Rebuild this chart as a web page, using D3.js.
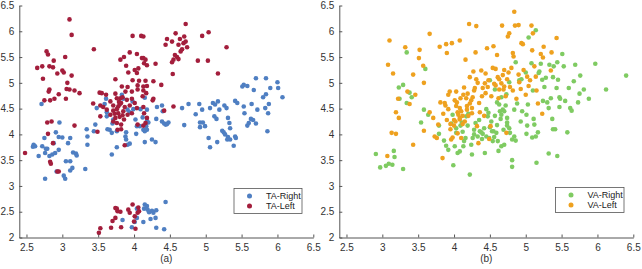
<!DOCTYPE html>
<html><head><meta charset="utf-8">
<script src="https://cdn.jsdelivr.net/npm/d3@7"></script>
<style>body{margin:0;background:#fff}svg{display:block}text{font-family:"Liberation Sans",Arial,sans-serif}</style>
</head><body><svg id="c" width="642" height="269"></svg>
<script>
const xTicks=[2.5,3,3.5,4,4.5,5,5.5,6,6.5];
const yTicks=[2,2.5,3,3.5,4,4.5,5,5.5,6,6.5];
const panelLabels=["(a)","(b)"];
const legendA=["TA-Right","TA-Left"];
const legendB=["VA-Right","VA-Left"];

const taRight=[[2.71,4.59],[2.60,3.80],[2.59,3.76],[2.62,3.77],[2.67,3.58],[2.72,3.77],[2.75,3.93],[2.77,3.72],[2.76,3.64],[2.79,3.72],
[2.82,3.58],[2.88,3.83],[2.90,3.64],[2.86,3.61],[2.91,4.04],[2.96,4.23],[2.95,3.95],[2.95,3.70],[3.00,3.94],[3.08,3.83],[3.11,3.93],
[2.76,3.14],[2.92,3.28],[3.02,3.20],[3.04,3.14],[3.05,3.48],[3.11,3.48],[3.11,3.30],[3.14,3.35],[3.15,3.65],[3.19,3.63],[3.20,3.59],[3.32,3.33],
[3.34,4.10],[3.35,3.96],[3.35,3.80],[3.44,4.06],[3.46,4.19],[3.48,4.51],[3.59,4.59],[3.61,4.69],[3.62,4.43],[3.62,4.35],[3.63,4.10],[3.66,4.09],[3.69,4.03],
[3.70,4.21],[3.71,4.29],[3.76,4.06],[3.69,3.61],[3.76,3.75],[3.83,4.77],[3.85,4.69],[3.91,4.48],[3.94,4.43],[3.98,4.64],[3.88,3.96],[3.89,3.90],[3.91,3.80],[3.94,3.82],[3.89,4.04],
[3.99,4.49],[4.02,4.29],[4.04,4.16],[4.03,4.01],[4.08,4.16],[4.09,4.49],[4.12,4.33],[4.13,4.09],[4.15,4.06],[4.18,4.09],[4.17,4.16],[4.15,4.71],[4.15,3.85],[4.18,4.26],[4.20,4.23],[4.18,4.48],[4.25,3.90],[4.30,3.85],[4.31,4.30],
[4.32,4.53],[4.39,4.56],[4.40,4.45],[4.39,4.25],[4.42,4.21],[4.44,4.19],[4.48,4.23],[4.46,4.20],
[4.67,4.51],[4.70,4.18],[4.76,4.59],[4.86,4.39],[4.91,4.59],[4.92,4.23],[4.92,4.14],[4.95,4.48],[4.96,4.23],[4.99,4.16],
[5.04,3.93],[5.06,4.51],[5.06,3.75],[5.10,4.61],[5.12,4.35],[5.15,4.30],[5.13,4.58],[5.17,4.64],[5.16,3.85],[5.19,4.48],[5.23,4.07],[5.25,4.04],[5.27,4.00],
[5.26,4.56],[5.29,4.51],[5.31,4.32],[5.33,4.22],[5.34,4.12],[5.31,3.95],[5.30,3.90],[5.34,3.90],[5.39,3.78],[5.41,3.96],[5.42,3.93],[5.41,4.65],[5.44,4.61],
[5.51,4.93],[5.53,4.96],[5.58,4.94],[5.54,4.41],[5.53,4.54],[5.58,4.17],[5.60,4.22],[5.63,4.30],[5.64,4.59],[5.67,4.86],[5.70,5.09],[5.72,4.48],[5.70,4.21],[5.66,4.28],
[5.80,4.72],[5.86,4.06],[5.84,4.78],[5.84,5.09],[5.83,4.51],[5.87,4.41],[5.88,4.59],[5.90,4.90],[6.00,5.01],[6.01,4.90],[6.07,4.72],
[3.84,2.34],[3.97,2.20],[4.01,2.30],[4.04,2.56],[4.04,2.38],[4.13,2.30],[4.14,2.56],[4.15,2.64],[4.18,2.61],[4.19,2.54],[4.21,2.49],[4.23,2.36],[4.27,2.48],[4.31,2.53],[4.30,2.38],[4.31,2.19],[4.42,2.16],[4.44,2.69],[4.25,2.52]];

const taLeft=[[2.48,3.64],[3.10,6.23],[3.13,5.93],[2.78,5.61],[2.80,5.55],[2.65,5.29],[2.72,5.32],[2.82,5.32],[2.88,5.43],[2.87,5.30],
[2.73,5.08],[2.93,5.18],[3.02,5.20],[3.04,5.50],[3.00,5.24],[3.13,5.14],[3.07,5.00],[2.82,4.87],[2.81,4.83],[2.95,4.78],
[3.06,4.88],[3.10,4.87],[3.17,4.85],[3.24,4.80],[2.75,4.66],[2.83,4.66],[2.89,4.69],[3.05,4.69],[2.79,4.23],[2.85,4.25],
[3.17,4.17],[2.80,4.01],[2.87,3.83],[2.83,3.47],[2.84,3.43],[2.93,3.28],[2.95,3.28],[3.44,5.65],[3.43,4.60],[3.49,4.05],
[3.52,4.81],[3.55,4.80],[3.61,4.77],[3.74,5.07],[3.81,5.45],[3.86,5.50],[3.94,5.59],[3.89,5.33],[4.04,5.56],[4.11,5.48],[4.13,5.48],[4.16,5.45],[4.14,5.38],[4.18,5.34],[4.30,5.37],
[3.98,5.91],[4.10,5.91],[4.13,5.90],[4.01,5.25],[4.06,5.28],[4.04,5.19],[3.92,5.20],
[3.98,5.05],[4.07,5.04],[4.16,5.04],[4.27,5.03],[4.38,4.96],[3.83,4.93],[3.91,4.92],[4.05,4.95],[4.13,4.93],[4.18,4.94],
[3.88,4.83],[3.97,4.83],[4.05,4.87],[4.13,4.85],[4.17,4.80],[3.74,4.79],[3.76,4.70],[3.81,4.70],[3.84,4.72],[3.90,4.67],[3.97,4.69],[4.01,4.61],[4.12,4.74],[4.27,4.69],
[3.67,4.64],[3.71,4.56],[3.78,4.54],[3.82,4.61],[3.87,4.53],[3.94,4.56],[4.04,4.51],[3.53,4.56],[3.57,4.53],[3.62,4.48],
[3.71,4.46],[3.78,4.41],[3.85,4.45],[3.91,4.38],[3.97,4.41],[3.53,4.35],[3.67,4.38],[3.74,4.32],[3.80,4.34],[3.86,4.29],
[3.71,4.25],[3.76,4.22],[3.82,4.19],[3.77,4.09],[3.82,4.10],[4.14,4.41],[4.18,4.32],[4.16,4.22],[4.13,4.17],[4.13,4.53],[4.05,4.19],[3.87,3.79],
[4.42,4.46],[4.55,4.54],[4.26,4.66],[3.76,4.49],[3.80,4.58],[3.73,4.40],[3.84,4.37],[3.79,4.63],
[4.44,5.74],[4.46,5.85],[4.53,5.80],[4.58,5.96],[4.62,5.74],[4.64,5.85],[4.69,5.77],[4.70,5.90],[4.72,6.14],[4.72,5.80],[4.74,5.69],[4.67,5.65],[4.65,5.61],[4.57,5.54],[4.60,5.50],[4.62,5.46],[4.55,5.45],[4.53,5.40],[4.54,5.17],
[4.95,5.91],[5.04,5.98],[4.89,5.43],[5.03,5.43],[5.17,5.18],[5.29,5.69],
[3.51,2.09],[3.53,2.18],[3.68,2.19],[3.70,2.32],[3.74,2.57],[3.76,2.56],[3.77,2.51],[3.81,2.50],[3.74,2.38],[3.82,2.20],[3.92,2.54],[3.94,2.48],[3.98,2.64],[4.01,2.41],[4.00,2.31],[4.02,2.17],[4.05,2.48],[4.07,2.51],[4.06,2.58]];

const vaRight=[[2.91,3.62],[2.97,3.36],[3.05,3.39],[3.09,3.43],[3.14,3.41],[3.16,3.68],[3.17,3.56],[3.29,3.33],[3.34,5.59],[3.23,4.91],[3.24,4.69],[3.29,4.96],[3.38,4.81],[3.41,4.72],[3.34,4.61],
[3.60,5.27],[3.58,4.48],[3.54,4.23],[3.64,4.38],[3.79,4.17],[3.79,4.01],[3.86,3.88],[3.89,3.78],[3.92,3.70],[3.96,4.21],[3.98,4.38],[3.99,3.40],[4.01,3.77],[4.03,4.12],[4.03,4.03],[4.05,3.64],[4.08,3.67],[4.09,4.17],[4.11,4.23],[4.13,3.77],[4.14,3.87],[4.16,3.93],[4.17,4.35],[4.19,4.17],[4.20,4.40],
[4.22,3.22],[4.25,3.61],[4.26,3.93],[4.28,4.09],[4.30,4.22],[4.33,3.96],[4.36,4.06],[4.38,4.04],[4.40,4.01],[4.39,3.91],[4.43,3.64],[4.45,4.49],[4.45,3.96],[4.49,3.93],[4.50,5.05],[4.50,4.14],[4.53,4.06],[4.55,4.06],[4.54,3.87],[4.57,4.87],[4.57,4.36],[4.59,4.03],[4.61,3.87],[4.62,3.68],[4.63,4.58],[4.64,4.45],[4.66,4.38],[4.66,4.72],[4.66,3.77],[4.68,4.48],[4.69,4.09],[4.70,3.80],[4.72,4.56],[4.73,4.78],[4.74,4.32],[4.74,4.23],[4.74,4.17],[4.77,5.01],[4.77,4.12],[4.78,4.03],[4.81,3.90],[4.81,3.50],[4.81,3.37],[4.84,4.48],[4.84,3.96],[4.86,3.88],[4.86,5.40],[4.91,5.05],[4.93,4.25],[4.94,5.07],
[5.00,5.20],[5.01,4.38],[5.01,4.01],[5.02,4.17],[5.03,4.58],[5.04,5.88],[5.08,5.38],[5.09,3.94],[5.10,4.85],[5.11,4.30],[5.12,4.19],[5.14,6.02],[5.14,3.96],[5.15,3.45],[5.17,4.04],[5.18,5.19],[5.19,5.22],[5.21,5.37],[5.23,5.06],[5.24,4.65],[5.26,4.92],[5.28,5.10],[5.30,4.62],[5.32,4.51],[5.32,3.63],[5.33,5.35],[5.35,4.70],[5.37,4.30],[5.38,4.10],[5.38,5.11],[5.39,5.32],[5.41,4.10],[5.43,4.90],[5.44,5.40],[5.44,3.58],[5.45,5.06],[5.47,4.72],[5.47,4.53],[5.48,4.69],[5.51,5.56],[5.53,5.32],[5.55,4.65],[5.58,4.04],[5.60,4.90],[5.62,4.51],[5.64,4.46],[5.67,5.03],[5.69,5.35],[5.73,4.62],[5.75,4.79],[5.76,5.14],[5.81,4.87],[5.88,4.69],[5.97,5.37],[6.12,4.87],[6.40,5.14],
[4.35,4.28],[4.42,4.12],[4.47,4.35],[4.52,4.25],[4.60,4.18],[4.65,4.30],[4.70,4.45],[4.56,3.95],[4.28,4.00],[4.12,4.05],[4.24,3.80],[4.48,4.42],[4.88,4.60],[4.95,4.45],[4.60,4.62]];

const vaLeft=[[3.10,5.82],[3.08,5.35],[3.07,3.58],[3.13,4.03],[3.19,4.01],[3.15,5.18],[3.19,4.43],[3.22,4.69],[3.23,4.32],[3.32,5.69],[3.35,4.83],[3.38,4.59],[3.43,5.16],[3.43,3.80],[3.46,4.77],[3.51,5.48],[3.52,5.64],[3.57,5.33],[3.58,5.00],[3.58,4.07],[3.66,5.95],[3.66,4.43],[3.71,4.32],[3.73,3.96],[3.76,3.93],[3.78,4.19],[3.80,5.70],[3.81,4.62],[3.84,3.54],[3.87,4.61],[3.88,4.56],[3.89,5.75],[3.90,5.58],[3.92,4.77],[3.92,4.49],[3.94,4.83],[3.95,4.20],[3.97,5.77],[3.96,3.90],[3.98,3.94],[4.00,4.28],[4.00,4.17],[4.01,4.66],[4.03,4.83],[4.04,4.62],[4.05,4.43],[4.08,4.51],[4.08,4.32],[4.08,5.82],[4.08,4.29],[4.10,3.93],[4.12,4.36],[4.13,4.77],[4.14,4.91],[4.16,5.45],[4.17,4.70],[4.18,4.55],[4.19,4.79],[4.20,4.36],[4.21,6.14],[4.22,5.11],[4.24,4.66],[4.25,4.51],[4.25,4.41],[4.27,5.22],[4.29,4.90],[4.30,5.59],[4.31,6.10],[4.31,5.07],[4.32,4.16],[4.34,3.83],[4.35,4.61],[4.36,4.43],[4.38,5.24],[4.39,4.74],[4.40,4.90],[4.42,4.36],[4.43,4.99],[4.44,5.18],[4.46,5.67],[4.47,4.92],[4.49,3.91],[4.51,4.16],[4.52,4.74],[4.54,5.29],[4.55,5.71],[4.56,4.98],[4.58,5.27],[4.60,5.54],[4.61,5.11],[4.63,4.87],[4.63,5.07],[4.66,4.99],[4.67,6.11],[4.69,4.87],[4.70,5.25],[4.70,4.93],[4.72,4.74],[4.73,4.03],[4.74,5.07],[4.75,5.90],[4.77,5.96],[4.78,4.92],[4.80,5.29],[4.82,5.58],[4.83,5.51],[4.84,6.38],[4.85,6.11],[4.87,4.69],[4.90,6.12],
[4.90,5.16],[4.91,5.01],[4.93,4.88],[4.94,5.77],[4.96,5.75],[4.97,5.25],[5.00,4.77],[5.02,5.12],[5.04,4.94],[5.06,5.05],[5.08,6.11],[5.09,5.63],[5.10,5.96],[5.12,5.32],[5.14,5.12],[5.15,4.85],[5.17,4.60],[5.21,5.56],[5.24,5.49],[5.25,5.70],[5.23,4.40],[5.35,5.24],[5.36,5.59],[5.43,5.87],
[4.02,4.25],[4.06,4.38],[4.10,4.45],[4.15,4.25],[4.18,4.48],[4.22,4.60],[4.26,4.72],[4.09,4.70],[4.03,4.55],[3.95,4.10],[4.12,4.20],[4.28,4.85],[4.33,5.00],[4.44,4.80],[4.48,5.05],[4.62,4.70],[4.58,4.95],[4.68,5.15],[4.76,5.20],[4.82,4.85],[3.90,4.28],[3.85,4.40],[4.05,4.02]];

const colors={taR:"#4f7fc2",taL:"#a31e3c",vaR:"#7fcb62",vaL:"#eea11f"};
const svg=d3.select("#c");
const yScale=d3.scaleLinear().domain([2,6.5]).range([237.5,5.5]);
const panels=[
 {x0:19.3,x1:313.3,series:[[taRight,colors.taR],[taLeft,colors.taL]],legend:legendA,lc:[colors.taR,colors.taL],lbox:[234,188.5,68,25],label:panelLabels[0]},
 {x0:339.3,x1:633.3,series:[[vaRight,colors.vaR],[vaLeft,colors.vaL]],legend:legendB,lc:[colors.vaR,colors.vaL],lbox:[555.5,187.5,68.5,25],label:panelLabels[1]}
];
panels.forEach(p=>{
 const x=d3.scaleLinear().domain([2.4,6.5]).range([p.x0,p.x1]);
 const g=svg.append("g");
 p.series.forEach(([data,col])=>{
  g.append("g").selectAll("circle").data(data).join("circle")
   .attr("cx",d=>x(d[0])).attr("cy",d=>yScale(d[1])).attr("r",2.3).attr("fill",col);
 });
 const xa=g.append("g").attr("transform",`translate(0,${yScale(2)})`)
  .call(d3.axisBottom(x).tickValues(xTicks).tickSizeInner(-3).tickSizeOuter(0).tickPadding(6).tickFormat(d3.format("")));
 const ya=g.append("g").attr("transform",`translate(${p.x0},0)`)
  .call(d3.axisLeft(yScale).tickValues(yTicks).tickSizeInner(-3).tickSizeOuter(0).tickPadding(6).tickFormat(d3.format("")));
 [xa,ya].forEach(a=>{
  a.select(".domain").attr("stroke","#555").attr("stroke-width",1);
  a.selectAll(".tick line").attr("stroke","#555");
  a.selectAll(".tick text").attr("fill","#333").style("font-size","10px").style("font-family","Liberation Sans, Arial, sans-serif");
 });
 ya.selectAll(".tick text").attr("x",-5);
 g.append("text").attr("x",(p.x0+p.x1)/2).attr("y",262).attr("text-anchor","middle")
  .attr("fill","#333").style("font-size","10px").text(p.label);
 const [bx,by,bw,bh]=p.lbox;
 g.append("rect").attr("x",bx).attr("y",by).attr("width",bw).attr("height",bh).attr("fill","#fff").attr("stroke","#555").attr("stroke-width",0.8);
 p.legend.forEach((t,i)=>{
  const cy=by+7.5+i*10;
  g.append("circle").attr("cx",bx+15.5).attr("cy",cy).attr("r",2.5).attr("fill",p.lc[i]);
  g.append("text").attr("x",bx+32).attr("y",cy+3.2).attr("fill","#222").style("font-size","9px").text(t);
 });
});
</script></body></html>
